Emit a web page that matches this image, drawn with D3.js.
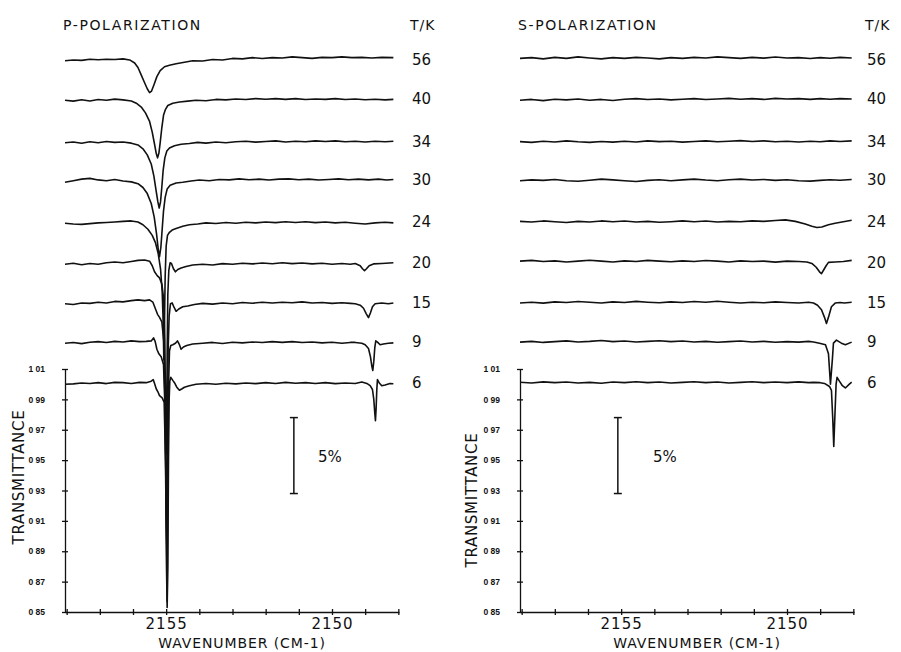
<!DOCTYPE html>
<html>
<head>
<meta charset="utf-8">
<script src="https://cdn.jsdelivr.net/npm/d3@7"></script>
<style>
  body { margin: 0; background: #fff; }
  svg { display: block; background: #fff; }
  text { font-family: "DejaVu Sans", sans-serif; fill: #111; }
</style>
</head>
<body>
<svg id="chart" width="901" height="652"></svg>
<script>
// temperatures (K), top trace to bottom trace
const temps = [56, 40, 34, 30, 24, 20, 15, 9, 6];
// transmittance each trace is stacked at
const traceLevels = [1.213, 1.187, 1.159, 1.134, 1.106, 1.079, 1.053, 1.027, 1.000];
const yTicks = [0.85, 0.87, 0.89, 0.91, 0.93, 0.95, 0.97, 0.99, 1.01];
const xTicks = [2158, 2157, 2156, 2155, 2154, 2153, 2152, 2151, 2150, 2149, 2148];
const xTickLabels = [2155, 2150];

// p-polarization spectra, [wavenumber, change in transmittance in %]
const p56 = [[2158.05,0],[2157.8,0.05],[2157.55,0.02],[2157.3,0.1],[2157.05,0.06],[2156.8,0.1],[2156.55,0.08],[2156.3,0.12],[2156.1,0.05],[2155.95,-0.15],[2155.85,-0.45],[2155.75,-0.95],[2155.65,-1.45],[2155.57,-1.85],[2155.5,-2.1],[2155.44,-2.0],[2155.37,-1.6],[2155.28,-1.05],[2155.18,-0.65],[2155.05,-0.4],[2154.9,-0.3],[2154.7,-0.2],[2154.45,-0.1],[2154.2,0.0],[2153.9,-0.02],[2153.6,0.08],[2153.3,0.05],[2153.0,0.15],[2152.7,0.12],[2152.4,0.2],[2152.1,0.14],[2151.8,0.2],[2151.5,0.18],[2151.2,0.25],[2150.9,0.2],[2150.6,0.15],[2150.3,0.22],[2150.0,0.2],[2149.7,0.25],[2149.4,0.2],[2149.1,0.22],[2148.8,0.18],[2148.5,0.22],[2148.15,0.2]];
const p40 = [[2158.05,0],[2157.8,-0.06],[2157.55,0.03],[2157.3,-0.05],[2157.05,0.04],[2156.8,0.0],[2156.55,0.07],[2156.3,0.02],[2156.05,-0.05],[2155.9,-0.2],[2155.75,-0.45],[2155.62,-0.85],[2155.5,-1.4],[2155.42,-2.1],[2155.35,-2.9],[2155.3,-3.5],[2155.26,-3.8],[2155.22,-3.5],[2155.18,-2.8],[2155.13,-1.8],[2155.08,-1.0],[2155.02,-0.6],[2154.95,-0.35],[2154.8,-0.2],[2154.6,-0.12],[2154.35,-0.06],[2154.1,0.0],[2153.8,-0.04],[2153.5,0.05],[2153.2,0.02],[2152.9,0.08],[2152.6,0.04],[2152.3,0.1],[2152.0,0.06],[2151.7,0.1],[2151.4,0.05],[2151.1,0.1],[2150.8,0.04],[2150.5,0.08],[2150.2,0.05],[2149.9,0.1],[2149.6,0.04],[2149.3,0.08],[2149.0,0.03],[2148.7,0.06],[2148.4,0.02],[2148.15,0.05]];
const p34 = [[2158.05,0],[2157.8,0.05],[2157.55,-0.04],[2157.3,0.06],[2157.05,0.0],[2156.8,0.08],[2156.55,0.02],[2156.3,0.05],[2156.05,-0.03],[2155.85,-0.15],[2155.7,-0.4],[2155.57,-0.8],[2155.45,-1.4],[2155.37,-2.2],[2155.3,-3.2],[2155.25,-3.9],[2155.21,-4.3],[2155.17,-3.9],[2155.13,-2.9],[2155.09,-1.8],[2155.04,-1.0],[2154.98,-0.55],[2154.9,-0.35],[2154.75,-0.2],[2154.55,-0.1],[2154.3,-0.05],[2154.05,0.02],[2153.8,-0.03],[2153.5,0.05],[2153.2,0.0],[2152.9,0.06],[2152.6,0.1],[2152.3,0.04],[2152.0,0.08],[2151.7,0.12],[2151.4,0.05],[2151.1,0.1],[2150.8,0.06],[2150.5,0.12],[2150.2,0.08],[2149.9,0.12],[2149.6,0.06],[2149.3,0.1],[2149.0,0.05],[2148.7,0.1],[2148.4,0.06],[2148.15,0.1]];
const p30 = [[2158.05,-0.1],[2157.8,0.0],[2157.55,0.1],[2157.3,0.15],[2157.05,0.05],[2156.8,0.0],[2156.55,0.08],[2156.3,-0.02],[2156.05,-0.08],[2155.85,-0.2],[2155.7,-0.45],[2155.57,-0.85],[2155.45,-1.5],[2155.36,-2.4],[2155.29,-3.5],[2155.24,-4.5],[2155.2,-5.0],[2155.16,-4.4],[2155.12,-3.2],[2155.08,-2.0],[2155.03,-1.1],[2154.97,-0.55],[2154.88,-0.3],[2154.7,-0.15],[2154.5,-0.1],[2154.25,-0.02],[2154.0,0.04],[2153.7,0.0],[2153.4,0.08],[2153.1,0.05],[2152.8,0.12],[2152.5,0.06],[2152.2,0.1],[2151.9,0.04],[2151.6,0.1],[2151.3,0.12],[2151.0,0.06],[2150.7,0.1],[2150.4,0.04],[2150.1,0.08],[2149.8,0.12],[2149.5,0.06],[2149.2,0.1],[2148.9,0.05],[2148.6,0.1],[2148.35,0.04],[2148.15,0.08]];
const p24 = [[2158.05,0.0],[2157.8,-0.05],[2157.55,-0.08],[2157.3,-0.03],[2157.05,0.02],[2156.8,0.05],[2156.55,0.08],[2156.3,0.12],[2156.05,0.15],[2155.85,0.08],[2155.7,-0.1],[2155.55,-0.4],[2155.42,-0.8],[2155.32,-1.3],[2155.24,-2.0],[2155.17,-3.0],[2155.12,-4.5],[2155.09,-6.5],[2155.07,-9],[2155.05,-6.5],[2155.03,-3.5],[2155.0,-1.5],[2154.96,-0.8],[2154.9,-0.6],[2154.82,-0.45],[2154.7,-0.35],[2154.5,-0.2],[2154.3,-0.1],[2154.05,-0.05],[2153.8,0.02],[2153.5,-0.02],[2153.2,0.05],[2152.9,0.0],[2152.6,0.06],[2152.3,0.02],[2152.0,0.08],[2151.7,0.04],[2151.4,0.1],[2151.1,0.05],[2150.8,0.1],[2150.5,0.04],[2150.2,0.08],[2149.9,0.02],[2149.6,0.06],[2149.3,0.0],[2149.0,-0.05],[2148.7,0.02],[2148.4,0.06],[2148.15,0.02]];
const p20 = [[2158.05,0.0],[2157.8,0.06],[2157.55,-0.04],[2157.3,0.05],[2157.05,0.0],[2156.8,0.1],[2156.55,0.15],[2156.3,0.1],[2156.05,0.18],[2155.85,0.25],[2155.65,0.28],[2155.5,0.2],[2155.42,-0.1],[2155.35,-0.5],[2155.27,-0.75],[2155.2,-0.9],[2155.13,-1.3],[2155.08,-2.2],[2155.04,-5],[2155.01,-11],[2154.99,-12.5],[2154.97,-6],[2154.95,-2],[2154.92,-0.4],[2154.88,0.1],[2154.84,0.05],[2154.78,-0.3],[2154.72,-0.5],[2154.65,-0.35],[2154.55,-0.25],[2154.4,-0.15],[2154.2,-0.05],[2153.9,0.0],[2153.6,-0.05],[2153.3,0.04],[2153.0,0.0],[2152.7,0.06],[2152.4,0.02],[2152.1,0.08],[2151.8,0.03],[2151.5,0.1],[2151.2,0.04],[2150.9,0.08],[2150.6,0.02],[2150.3,0.06],[2150.0,0.0],[2149.7,0.05],[2149.45,0.0],[2149.3,0.05],[2149.15,-0.1],[2149.08,-0.3],[2149.02,-0.42],[2148.96,-0.3],[2148.88,-0.1],[2148.75,0.02],[2148.5,0.05],[2148.15,0.1]];
const p15 = [[2158.05,0.0],[2157.8,-0.05],[2157.55,0.05],[2157.3,0.02],[2157.05,0.1],[2156.8,0.05],[2156.55,0.15],[2156.3,0.12],[2156.05,0.2],[2155.85,0.25],[2155.65,0.2],[2155.5,0.25],[2155.4,0.1],[2155.33,-0.3],[2155.26,-0.7],[2155.2,-0.9],[2155.13,-1.2],[2155.07,-2.5],[2155.03,-7],[2155.0,-14],[2154.98,-16],[2154.96,-8],[2154.94,-3],[2154.91,-0.8],[2154.87,0.0],[2154.82,0.05],[2154.76,-0.25],[2154.7,-0.5],[2154.62,-0.35],[2154.5,-0.2],[2154.35,-0.15],[2154.15,-0.05],[2153.9,0.02],[2153.6,-0.03],[2153.3,0.05],[2153.0,0.0],[2152.7,0.08],[2152.4,0.03],[2152.1,0.1],[2151.8,0.05],[2151.5,0.1],[2151.2,0.06],[2150.9,0.12],[2150.6,0.05],[2150.3,0.08],[2150.0,0.02],[2149.7,0.06],[2149.45,0.02],[2149.3,0.0],[2149.15,-0.1],[2149.05,-0.3],[2148.97,-0.65],[2148.9,-0.92],[2148.84,-0.6],[2148.78,-0.2],[2148.7,0.0],[2148.5,0.05],[2148.3,0.0],[2148.15,0.05]];
const p9 = [[2158.05,0.0],[2157.8,0.05],[2157.55,-0.03],[2157.3,0.06],[2157.05,0.1],[2156.8,0.05],[2156.55,0.12],[2156.3,0.08],[2156.05,0.15],[2155.8,0.1],[2155.6,0.12],[2155.45,0.15],[2155.38,0.35],[2155.33,0.1],[2155.28,-0.4],[2155.22,-0.7],[2155.15,-0.9],[2155.08,-1.4],[2155.04,-4],[2155.0,-10],[2154.97,-17],[2154.95,-10],[2154.93,-3],[2154.9,-0.5],[2154.86,-0.15],[2154.8,-0.1],[2154.72,0.0],[2154.66,0.15],[2154.6,-0.1],[2154.55,-0.4],[2154.48,-0.25],[2154.38,-0.15],[2154.2,-0.05],[2153.9,0.0],[2153.6,0.05],[2153.3,-0.02],[2153.0,0.06],[2152.7,0.02],[2152.4,0.08],[2152.1,0.04],[2151.8,0.1],[2151.5,0.05],[2151.2,0.1],[2150.9,0.04],[2150.6,0.08],[2150.3,0.02],[2150.0,0.06],[2149.7,0.0],[2149.45,0.05],[2149.3,0.05],[2149.1,0.0],[2149.0,-0.1],[2148.9,-0.35],[2148.84,-0.9],[2148.8,-1.5],[2148.77,-1.8],[2148.74,-1.2],[2148.71,-0.3],[2148.68,0.15],[2148.62,0.05],[2148.55,-0.1],[2148.45,-0.05],[2148.3,0.0],[2148.15,0.02]];
const p6 = [[2158.05,0.0],[2157.8,0.02],[2157.55,0.08],[2157.3,0.05],[2157.05,0.1],[2156.8,0.04],[2156.55,0.12],[2156.3,0.1],[2156.05,0.05],[2155.8,0.12],[2155.6,0.1],[2155.45,0.2],[2155.39,0.3],[2155.35,0.05],[2155.3,-0.3],[2155.25,-0.5],[2155.2,-0.75],[2155.12,-0.9],[2155.06,-1.2],[2155.02,-5],[2154.99,-12],[2154.97,-14.7],[2154.95,-12],[2154.93,-5],[2154.91,-1],[2154.89,0.2],[2154.86,0.45],[2154.8,0.25],[2154.75,0.1],[2154.68,-0.2],[2154.6,-0.4],[2154.52,-0.3],[2154.45,-0.2],[2154.3,-0.1],[2154.1,0.0],[2153.8,0.05],[2153.5,0.0],[2153.2,0.06],[2152.9,0.02],[2152.6,0.08],[2152.3,0.04],[2152.0,0.1],[2151.7,0.05],[2151.4,0.12],[2151.1,0.06],[2150.8,0.1],[2150.5,0.05],[2150.2,0.1],[2149.9,0.04],[2149.6,0.08],[2149.3,0.05],[2149.1,0.15],[2148.95,0.05],[2148.85,-0.1],[2148.78,-0.35],[2148.74,-1.0],[2148.71,-1.9],[2148.69,-2.4],[2148.67,-1.6],[2148.65,-0.4],[2148.63,0.3],[2148.58,0.1],[2148.5,-0.1],[2148.4,-0.05],[2148.25,0.05],[2148.15,0.03]];

// s-polarization spectra
const s56 = [[2158.05,0.15],[2157.7,0.2],[2157.35,0.12],[2157.0,0.22],[2156.65,0.15],[2156.3,0.25],[2155.95,0.18],[2155.6,0.12],[2155.25,0.2],[2154.9,0.15],[2154.55,0.22],[2154.2,0.18],[2153.85,0.12],[2153.5,0.2],[2153.15,0.15],[2152.8,0.22],[2152.45,0.18],[2152.1,0.25],[2151.75,0.2],[2151.4,0.15],[2151.05,0.22],[2150.7,0.17],[2150.35,0.24],[2150.0,0.18],[2149.65,0.2],[2149.3,0.14],[2149.0,0.2],[2148.7,0.16],[2148.4,0.22],[2148.05,0.18]];
const s40 = [[2158.05,0.0],[2157.7,0.05],[2157.35,-0.03],[2157.0,0.06],[2156.65,0.02],[2156.3,0.08],[2155.95,0.0],[2155.6,0.05],[2155.25,-0.02],[2154.9,0.06],[2154.55,0.1],[2154.2,0.04],[2153.85,0.08],[2153.5,0.02],[2153.15,0.06],[2152.8,0.1],[2152.45,0.04],[2152.1,0.08],[2151.75,0.12],[2151.4,0.06],[2151.05,0.1],[2150.7,0.05],[2150.35,0.12],[2150.0,0.08],[2149.65,0.1],[2149.3,0.05],[2149.0,0.1],[2148.7,0.06],[2148.4,0.1],[2148.05,0.08]];
const s34 = [[2158.05,0.07],[2157.7,0.02],[2157.35,0.1],[2157.0,0.05],[2156.65,0.12],[2156.3,0.06],[2155.95,0.02],[2155.6,0.08],[2155.25,0.04],[2154.9,0.1],[2154.55,0.05],[2154.2,0.12],[2153.85,0.07],[2153.5,0.1],[2153.15,0.04],[2152.8,0.08],[2152.45,0.12],[2152.1,0.06],[2151.75,0.1],[2151.4,0.14],[2151.05,0.08],[2150.7,0.12],[2150.35,0.06],[2150.0,0.1],[2149.65,0.05],[2149.3,0.1],[2149.0,0.06],[2148.7,0.12],[2148.4,0.08],[2148.05,0.12]];
const s30 = [[2158.05,0.0],[2157.7,0.05],[2157.35,0.02],[2157.0,0.08],[2156.65,0.0],[2156.3,-0.04],[2155.95,0.03],[2155.6,0.1],[2155.25,0.05],[2154.9,0.0],[2154.55,-0.05],[2154.2,0.02],[2153.85,0.06],[2153.5,0.0],[2153.15,0.05],[2152.8,0.1],[2152.45,0.04],[2152.1,0.0],[2151.75,0.06],[2151.4,0.1],[2151.05,0.04],[2150.7,0.08],[2150.35,0.02],[2150.0,0.06],[2149.65,0.0],[2149.3,-0.03],[2149.0,0.02],[2148.7,0.06],[2148.4,0.03],[2148.05,0.08]];
const s24 = [[2158.05,0.12],[2157.7,0.08],[2157.35,0.15],[2157.0,0.1],[2156.65,0.05],[2156.3,0.12],[2155.95,0.08],[2155.6,0.15],[2155.25,0.1],[2154.9,0.14],[2154.55,0.08],[2154.2,0.12],[2153.85,0.06],[2153.5,0.1],[2153.15,0.15],[2152.8,0.1],[2152.45,0.14],[2152.1,0.08],[2151.75,0.12],[2151.4,0.1],[2151.05,0.15],[2150.7,0.12],[2150.35,0.18],[2150.05,0.22],[2149.75,0.12],[2149.45,-0.05],[2149.25,-0.2],[2149.1,-0.28],[2148.95,-0.25],[2148.75,-0.1],[2148.55,0.0],[2148.3,0.1],[2148.05,0.2]];
const s20 = [[2158.05,0.2],[2157.7,0.25],[2157.35,0.18],[2157.0,0.22],[2156.65,0.15],[2156.3,0.2],[2155.95,0.26],[2155.6,0.2],[2155.25,0.15],[2154.9,0.22],[2154.55,0.18],[2154.2,0.25],[2153.85,0.2],[2153.5,0.16],[2153.15,0.22],[2152.8,0.18],[2152.45,0.24],[2152.1,0.2],[2151.75,0.15],[2151.4,0.22],[2151.05,0.18],[2150.7,0.2],[2150.35,0.14],[2150.0,0.2],[2149.65,0.18],[2149.4,0.15],[2149.25,0.05],[2149.12,-0.2],[2149.02,-0.5],[2148.96,-0.62],[2148.9,-0.4],[2148.82,-0.1],[2148.75,0.12],[2148.55,0.15],[2148.3,0.18],[2148.05,0.25]];
const s15 = [[2158.05,0.05],[2157.7,0.1],[2157.35,0.04],[2157.0,0.12],[2156.65,0.08],[2156.3,0.14],[2155.95,0.1],[2155.6,0.05],[2155.25,0.12],[2154.9,0.08],[2154.55,0.15],[2154.2,0.1],[2153.85,0.06],[2153.5,0.12],[2153.15,0.08],[2152.8,0.14],[2152.45,0.1],[2152.1,0.16],[2151.75,0.1],[2151.4,0.05],[2151.05,0.1],[2150.7,0.06],[2150.35,0.12],[2150.0,0.08],[2149.65,0.05],[2149.35,0.1],[2149.2,0.05],[2149.08,-0.1],[2148.96,-0.4],[2148.87,-0.9],[2148.81,-1.3],[2148.75,-0.9],[2148.66,-0.2],[2148.54,0.05],[2148.4,0.08],[2148.27,0.05],[2148.05,0.1]];
const s9 = [[2158.05,0.07],[2157.7,0.12],[2157.35,0.05],[2157.0,0.1],[2156.65,0.15],[2156.3,0.08],[2155.95,0.12],[2155.6,0.18],[2155.25,0.1],[2154.9,0.14],[2154.55,0.08],[2154.2,0.12],[2153.85,0.16],[2153.5,0.1],[2153.15,0.14],[2152.8,0.08],[2152.45,0.12],[2152.1,0.06],[2151.75,0.1],[2151.4,0.14],[2151.05,0.08],[2150.7,0.12],[2150.35,0.06],[2150.0,0.1],[2149.65,0.07],[2149.35,0.12],[2149.2,0.08],[2149.02,0.0],[2148.84,-0.1],[2148.75,-0.7],[2148.69,-2.7],[2148.63,-1.0],[2148.6,0.0],[2148.51,0.2],[2148.36,0.0],[2148.24,-0.1],[2148.05,0.07]];
const s6 = [[2158.05,0.13],[2157.7,0.08],[2157.35,0.15],[2157.0,0.1],[2156.65,0.14],[2156.3,0.08],[2155.95,0.12],[2155.6,0.06],[2155.25,0.14],[2154.9,0.1],[2154.55,0.16],[2154.2,0.1],[2153.85,0.14],[2153.5,0.08],[2153.15,0.12],[2152.8,0.16],[2152.45,0.1],[2152.1,0.14],[2151.75,0.08],[2151.4,0.12],[2151.05,0.16],[2150.7,0.1],[2150.35,0.14],[2150.0,0.1],[2149.65,0.15],[2149.35,0.1],[2149.2,0.12],[2149.0,0.1],[2148.87,0.05],[2148.72,-0.15],[2148.66,-0.4],[2148.62,-2.3],[2148.59,-4.1],[2148.56,-2.3],[2148.52,0.0],[2148.49,0.45],[2148.42,0.2],[2148.33,-0.1],[2148.24,-0.25],[2148.12,0.0],[2148.05,0.13]];

const pTraces = [p56, p40, p34, p30, p24, p20, p15, p9, p6];
const sTraces = [s56, s40, s34, s30, s24, s20, s15, s9, s6];

class SpectraPanel {
    constructor(_config, _data) {
        this.config = {
            parentElement: _config.parentElement,
            left: _config.left,
            title: _config.title,
            barWavenumber: _config.barWavenumber,
            barLabelX: _config.barLabelX,
            yLabelX: _config.yLabelX,
            yLabelY: _config.yLabelY
        }
        this.data = _data;
        this.initVis();
    }

    initVis() {
        let vis = this;
        vis.plotWidth = 334;
        vis.top = 369;
        vis.bottom = 612;

        vis.chart = d3.select(vis.config.parentElement).append('g')
            .attr('transform', `translate(${vis.config.left},0)`);

        vis.x = d3.scaleLinear()
            .domain([2158.05, 2147.98])
            .range([0, vis.plotWidth]);

        vis.y = d3.scaleLinear()
            .domain([0.85, 1.01])
            .range([vis.bottom, vis.top]);

        vis.updateVis();
    }

    updateVis() {
        let vis = this;

        // y axis with ticks crossing the line
        let yAxis = vis.chart.append('g')
            .attr('class', 'y-axis')
            .call(d3.axisLeft(vis.y)
                .tickValues(yTicks)
                .tickSizeInner(3)
                .tickSizeOuter(0)
                .tickPadding(17)
                .tickFormat(d => d3.format('.2f')(d).replace('.', ' ')));
        yAxis.selectAll('.tick line').attr('x1', -3).attr('x2', 3);
        yAxis.selectAll('text')
            .style('font-family', '"Liberation Sans", sans-serif')
            .style('font-weight', 'bold')
            .style('font-size', '8.5px');

        let xAxis = vis.chart.append('g')
            .attr('class', 'x-axis')
            .attr('transform', `translate(0,${vis.bottom})`)
            .call(d3.axisBottom(vis.x)
                .tickValues(xTicks)
                .tickSizeInner(3)
                .tickSizeOuter(0)
                .tickPadding(3)
                .tickFormat(d => xTickLabels.includes(d) ? d : ''));
        xAxis.selectAll('.tick line').attr('y1', -3).attr('y2', 3);
        xAxis.selectAll('text')
            .style('font-size', '15px')
            .style('fill', '#111')
            .style('letter-spacing', '1px');

        vis.chart.selectAll('.domain, .tick line')
            .attr('stroke', '#111')
            .attr('stroke-width', 1.3);

        // stacked spectra
        vis.line = d3.line()
            .x(d => vis.x(d[0]))
            .y(d => vis.y(d[1]));

        vis.chart.append('g')
            .selectAll('path')
            .data(vis.data)
            .join('path')
            .attr('d', (d, i) => vis.line(d.map(p => [p[0], traceLevels[i] + p[1] / 100])))
            .attr('fill', 'none')
            .attr('stroke', '#111')
            .attr('stroke-width', 1.6)
            .attr('stroke-linejoin', 'round');

        // temperature labels at right end of each trace
        vis.chart.selectAll('.temp')
            .data(temps)
            .join('text')
            .attr('class', 'temp')
            .attr('x', vis.plotWidth + 13)
            .attr('y', (d, i) => vis.y(traceLevels[i]) - 1)
            .attr('dominant-baseline', 'central')
            .style('font-size', '15px')
            .text(d => d);

        vis.chart.append('text')
            .attr('x', -2)
            .attr('y', 30)
            .style('font-size', '14px')
            .style('letter-spacing', '1.6px')
            .text(vis.config.title);

        vis.chart.append('text')
            .attr('x', vis.plotWidth + 11)
            .attr('y', 30)
            .style('font-size', '14px')
            .style('letter-spacing', '1px')
            .text('T/K');

        // 5% transmittance scale bar
        let bx = vis.x(vis.config.barWavenumber);
        let barTop = 0.978, barBottom = barTop - 0.05;
        let bar = vis.chart.append('g')
            .attr('stroke', '#111')
            .attr('stroke-width', 1.5);
        bar.append('line')
            .attr('x1', bx).attr('x2', bx)
            .attr('y1', vis.y(barTop)).attr('y2', vis.y(barBottom));
        [barTop, barBottom].forEach(v => {
            bar.append('line')
                .attr('x1', bx - 4).attr('x2', bx + 4)
                .attr('y1', vis.y(v)).attr('y2', vis.y(v));
        });
        vis.chart.append('text')
            .attr('x', vis.config.barLabelX)
            .attr('y', vis.y((barTop + barBottom) / 2) + 6)
            .style('font-size', '15px')
            .text('5%');

        vis.chart.append('text')
            .attr('transform', `translate(${vis.config.yLabelX},${vis.config.yLabelY}) rotate(-90)`)
            .attr('text-anchor', 'middle')
            .attr('dominant-baseline', 'central')
            .style('font-size', '15px')
            .style('letter-spacing', '0.7px')
            .text('TRANSMITTANCE');

        vis.chart.append('text')
            .attr('x', 177)
            .attr('y', 648)
            .attr('text-anchor', 'middle')
            .style('font-size', '14px')
            .style('letter-spacing', '0.9px')
            .text('WAVENUMBER (CM-1)');
    }
}

let pPanel = new SpectraPanel({
    parentElement: '#chart',
    left: 65,
    title: 'P-POLARIZATION',
    barWavenumber: 2151.15,
    barLabelX: 253,
    yLabelX: -46,
    yLabelY: 477
}, pTraces);

let sPanel = new SpectraPanel({
    parentElement: '#chart',
    left: 520,
    title: 'S-POLARIZATION',
    barWavenumber: 2155.1,
    barLabelX: 133,
    yLabelX: -48,
    yLabelY: 500
}, sTraces);
</script>
</body>
</html>
